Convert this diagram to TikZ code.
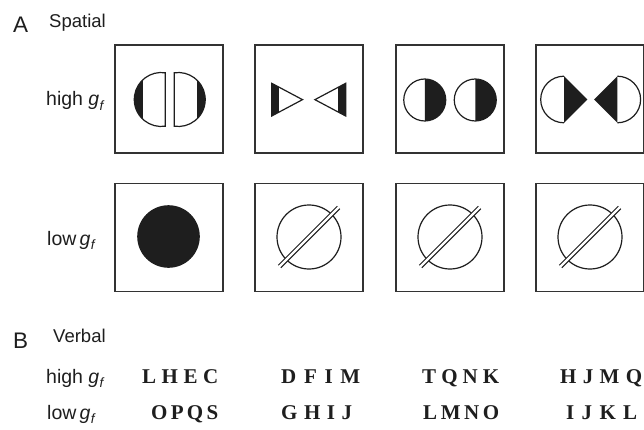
\documentclass[tikz,border=0pt]{standalone}
\usepackage{fontspec}
\setmainfont{Liberation Serif}
\newfontfamily\lsans{Liberation Sans}
\newfontfamily\lserif{Liberation Serif}
\definecolor{ink}{HTML}{1E1E1E}
\definecolor{frame}{HTML}{333333}
\newcommand\gfsub{{\itshape g\kern0.3pt\raisebox{-0.45ex}{\fontsize{13.5}{13.5}\selectfont f}}}
\newcommand\spread[5]{\hbox to #1pt{#2\hfil #3\hfil #4\hfil #5}}
\tikzset{
  panel/.style={draw=frame,line width=1.4pt,minimum width=108pt,minimum height=108pt,inner sep=0pt},
  shp/.style={draw=ink,line width=1.2pt},
  blk/.style={fill=ink},
  big/.style={font=\lsans\fontsize{22.5}{22.5}\selectfont,text=ink,inner sep=0pt},
  head/.style={font=\lsans\fontsize{18.5}{18.5}\selectfont,text=ink,inner sep=0pt},
  lab/.style={font=\lsans\fontsize{19.5}{19.5}\selectfont,text=ink,inner sep=0pt,anchor=base west},
  letters/.style={font=\lserif\bfseries\fontsize{21}{21}\selectfont,text=ink,inner sep=0pt,anchor=base west},
}
\begin{document}
\begin{tikzpicture}[x=1pt,y=-1pt]
\useasboundingbox[fill=white] (0,0) rectangle (644,430);
% headings
\node[big,anchor=base west] (hA) at (13,33) {A};
\node[head,anchor=base west] (hSp) at (49,28) {Spatial};
\node[lab] (lh1) at (46,106) {high \gfsub};
\node[lab] (ll1) at (47,245) {low\,\gfsub};
% panels
\foreach \i/\x in {1/169,2/309,3/450,4/590}{
  \node[panel] (p1\i) at (\x,99) {};
  \node[panel] (p2\i) at (\x,237.5) {};
}
% panel 1,1: two D shapes
\begin{scope}
  \clip (165.25,72.8) arc[start angle=-81.5,end angle=-278.5,radius=27] -- cycle;
  \fill[blk] (130,60) rectangle (143.3,140);
\end{scope}
\draw[shp] (165.25,72.8) arc[start angle=-81.5,end angle=-278.5,radius=27] -- cycle;
\begin{scope}
  \clip (174.25,72.8) arc[start angle=-98.5,end angle=98.5,radius=27] -- cycle;
  \fill[blk] (196.7,60) rectangle (210,140);
\end{scope}
\draw[shp] (174.25,72.8) arc[start angle=-98.5,end angle=98.5,radius=27] -- cycle;
% panel 1,2: triangles
\begin{scope}
  \clip (271.7,83.3) -- (302.5,99.65) -- (271.7,116) -- cycle;
  \fill[blk] (260,70) rectangle (279,130);
\end{scope}
\draw[shp,line join=miter] (271.7,83.3) -- (302.5,99.65) -- (271.7,116) -- cycle;
\begin{scope}
  \clip (345.7,83.3) -- (314.9,99.65) -- (345.7,116) -- cycle;
  \fill[blk] (338.4,70) rectangle (360,130);
\end{scope}
\draw[shp,line join=miter] (345.7,83.3) -- (314.9,99.65) -- (345.7,116) -- cycle;
% panel 1,3: half-black circles
\foreach \cx in {424.75,475.25}{
  \fill[blk] (\cx,79) arc[start angle=-90,end angle=90,radius=21] -- cycle;
  \draw[shp] (\cx,100) circle[radius=21];
}
% panel 1,4: semicircles with black triangles
\draw[shp] (564,76.2) arc[start angle=-90,end angle=-270,radius=23.3];
\fill[blk] (564,76.2) -- (587.3,99.5) -- (564,122.8) -- cycle;
\draw[shp] (617.3,76.2) arc[start angle=-90,end angle=90,radius=23.3];
\fill[blk] (617.3,76.2) -- (594.2,99.5) -- (617.3,122.8) -- cycle;
% row 2
\fill[blk] (168.5,236.5) circle[radius=31.3];
\foreach \cx in {309,450,590}{
  \draw[shp] (\cx,237) circle[radius=32];
  \draw[ink,line width=4.6pt] (\cx-29.5,266.5) -- (\cx+29.5,207.5);
  \draw[white,line width=2.2pt] (\cx-30,267) -- (\cx+30,207);
}
% verbal
\node[big,anchor=base west] (hB) at (13,348) {B};
\node[head,anchor=base west] (hV) at (53,342) {Verbal};
\node[lab] (lh2) at (46,383) {high \gfsub};
\node[lab] (ll2) at (47,419) {low\,\gfsub};
\node[letters] (v11) at (142,383) {\spread{76}LHEC};
\node[letters] (v12) at (281,383) {\spread{79}DFIM};
\node[letters] (v13) at (422,383) {\spread{77}TQNK};
\node[letters] (v14) at (560,383) {\spread{82}HJMQ};
\node[letters] (v21) at (151,419) {\spread{67}OPQS};
\node[letters] (v22) at (281,419) {\spread{71}GHIJ};
\node[letters] (v23) at (423,419) {\spread{76}LMNO};
\node[letters] (v24) at (566,419) {\spread{71}IJKL};
\end{tikzpicture}
\end{document}
